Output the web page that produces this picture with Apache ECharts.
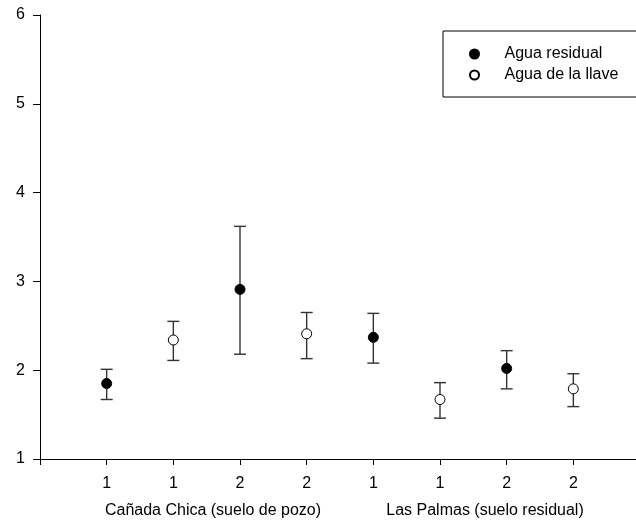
<!DOCTYPE html>
<html>
<head>
<meta charset="utf-8">
<script src="https://cdn.jsdelivr.net/npm/echarts@6/dist/echarts.min.js"></script>
<style>
  html, body { margin: 0; padding: 0; background: #fff; }
  #chart { width: 636px; height: 527px; }
</style>
</head>
<body>
<div id="chart"></div>
<script>
// Tick labels along the x axis, indexed by slot (slot 0 is the blank origin)
const xTickLabels = ['', '1', '1', '2', '2', '1', '1', '2', '2'];

// Axis slots used by each treatment
const residualSlots = [1, 3, 5, 7];
const llaveSlots = [2, 4, 6, 8];

// Agua residual: mean and interval bounds
const residualMean = [1.85, 2.91, 2.37, 2.02];
const residualLow  = [1.67, 2.18, 2.08, 1.79];
const residualHigh = [2.01, 3.62, 2.64, 2.22];

// Agua de la llave: mean and interval bounds
const llaveMean = [2.34, 2.41, 1.67, 1.79];
const llaveLow  = [2.11, 2.13, 1.46, 1.59];
const llaveHigh = [2.55, 2.65, 1.86, 1.96];

// Group captions under the tick labels
const groupLabels = ['Cañada Chica (suelo de pozo)', 'Las Palmas (suelo residual)'];

const FONT = '"Liberation Sans", Arial, sans-serif';

const pts = (slots, vals) => slots.map((s, i) => [s, vals[i]]);
const bars = (slots, lo, hi) => slots.map((s, i) => [s, lo[i], hi[i]]);

const errorData = bars(residualSlots, residualLow, residualHigh)
  .concat(bars(llaveSlots, llaveLow, llaveHigh));

// One tick per slot, origin included
const xTickSlots = xTickLabels.map((_, i) => i);

function renderErrorBar(params, api) {
  const x = api.value(0);
  const lo = api.coord([x, api.value(1)]);
  const hi = api.coord([x, api.value(2)]);
  const cap = 6;
  const style = { stroke: '#333', lineWidth: 1.4 };
  return {
    type: 'group',
    children: [
      { type: 'line', shape: { x1: hi[0], y1: hi[1], x2: lo[0], y2: lo[1] }, style },
      { type: 'line', shape: { x1: hi[0] - cap, y1: hi[1], x2: hi[0] + cap, y2: hi[1] }, style },
      { type: 'line', shape: { x1: lo[0] - cap, y1: lo[1], x2: lo[0] + cap, y2: lo[1] }, style }
    ]
  };
}

const chart = echarts.init(document.getElementById('chart'), null, { renderer: 'canvas' });

chart.setOption({
  backgroundColor: '#fff',
  animation: false,
  textStyle: { fontFamily: FONT },
  grid: { left: 40, top: 15, right: 0, height: 444, containLabel: false },
  legend: {
    orient: 'vertical',
    left: 443,
    top: 31,
    padding: [15, 40, 14, 26],
    itemWidth: 50,
    itemHeight: 9,
    itemGap: 5,
    icon: 'circle',
    borderColor: '#000',
    borderWidth: 1,
    textStyle: { fontFamily: FONT, fontSize: 16, color: '#000', lineHeight: 16 },
    data: ['Agua residual', 'Agua de la llave']
  },
  xAxis: {
    type: 'value',
    min: 0,
    max: 8.94,
    interval: 1,
    axisLine: { show: true, onZero: false, lineStyle: { color: '#000', width: 1 } },
    axisTick: { show: true, length: 6, customValues: xTickSlots, lineStyle: { color: '#000' } },
    axisLabel: {
      margin: 17, fontFamily: FONT, fontSize: 16, color: '#000',
      customValues: xTickSlots,
      formatter: v => (Number.isInteger(v) && xTickLabels[v] !== undefined) ? xTickLabels[v] : ''
    },
    splitLine: { show: false }
  },
  yAxis: {
    type: 'value',
    min: 1,
    max: 6,
    interval: 1,
    axisLine: { show: true, lineStyle: { color: '#000', width: 1 } },
    axisTick: { show: true, length: 7, lineStyle: { color: '#000' } },
    axisLabel: { margin: 15, fontFamily: FONT, fontSize: 16, color: '#000' },
    splitLine: { show: false }
  },
  graphic: [
    {
      type: 'text', z: 10, x: 213, y: 511,
      style: { text: groupLabels[0], font: '16px ' + FONT, fill: '#000', align: 'center', verticalAlign: 'middle' }
    },
    {
      type: 'text', z: 10, x: 485, y: 511,
      style: { text: groupLabels[1], font: '16px ' + FONT, fill: '#000', align: 'center', verticalAlign: 'middle' }
    }
  ],
  series: [
    {
      name: 'errores',
      type: 'custom',
      renderItem: renderErrorBar,
      encode: { x: 0, y: [1, 2] },
      data: errorData,
      z: 1,
      silent: true
    },
    {
      name: 'Agua residual',
      type: 'scatter',
      symbol: 'circle',
      symbolSize: 10,
      itemStyle: { color: '#000', borderColor: '#000', borderWidth: 1, opacity: 1 },
      data: pts(residualSlots, residualMean),
      z: 3
    },
    {
      name: 'Agua de la llave',
      type: 'scatter',
      symbol: 'circle',
      symbolSize: 10,
      itemStyle: { color: '#fff', borderColor: '#000', borderWidth: 1, opacity: 1 },
      data: pts(llaveSlots, llaveMean),
      z: 3
    }
  ]
});
</script>
</body>
</html>
